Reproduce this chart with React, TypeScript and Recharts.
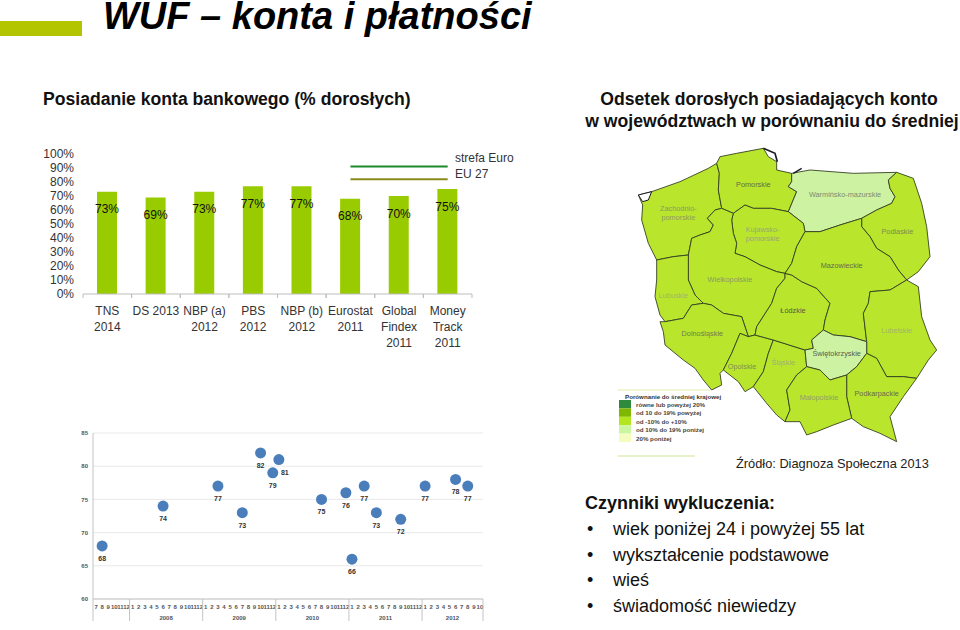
import React from "react";
import {
  ComposedChart,
  LineChart,
  Bar,
  Line,
  XAxis,
  YAxis,
  CartesianGrid,
  LabelList,
  Surface,
  Polygon,
} from "recharts";

const FONT = "'Liberation Sans', Arial, sans-serif";

// ---- Bar chart data ----
const sources = [
  ["TNS", "2014"],
  ["DS 2013"],
  ["NBP (a)", "2012"],
  ["PBS", "2012"],
  ["NBP (b)", "2012"],
  ["Eurostat", "2011"],
  ["Global", "Findex", "2011"],
  ["Money", "Track", "2011"],
];
const accountShare = [73, 69, 73, 77, 77, 68, 70, 75];
const euroArea = [null, null, null, null, null, 91, 91, 91];
const eu27 = [null, null, null, null, null, 82, 82, 82];
const percentTicks = [0, 10, 20, 30, 40, 50, 60, 70, 80, 90, 100];

const barData = sources.map((lines, i) => ({
  key: String(i),
  share: accountShare[i],
  euro: euroArea[i],
  eu: eu27[i],
}));

// ---- Time series data ----
const monthLabels = [
  7, 8, 9, 10, 11, 12,
  1, 2, 3, 4, 5, 6, 7, 8, 9, 10, 11, 12,
  1, 2, 3, 4, 5, 6, 7, 8, 9, 10, 11, 12,
  1, 2, 3, 4, 5, 6, 7, 8, 9, 10, 11, 12,
  1, 2, 3, 4, 5, 6, 7, 8, 9, 10, 11, 12,
  1, 2, 3, 4, 5, 6, 7, 8, 9, 10,
];
const surveyMonths = [1, 11, 20, 24, 27, 29, 30, 37, 41, 42, 44, 46, 50, 54, 59, 61];
const surveyValues = [68, 74, 77, 73, 82, 79, 81, 75, 76, 66, 77, 73, 72, 77, 78, 77];
const rightLabelMonths = [30];
const yearLabelAt: Record<number, string> = { 11: "2008", 23: "2009", 35: "2010", 47: "2011", 58: "2012" };
const yearBoundaries = [0, 6, 18, 30, 42, 54];
const surveyTicks = [60, 65, 70, 75, 80, 85];

const seriesData = monthLabels.map((m, i) => {
  const at = surveyMonths.indexOf(i);
  return { idx: i, value: at >= 0 ? surveyValues[at] : null };
});

// ---- Map ----
type Pt = [number, number];
const MAP_MID = "#b9e62c";
const MAP_LOW = "#cdf3a2";
const voivodeships: { name: string[]; fill: string; lx: number; ly: number; tone: string; outline: Pt[] }[] = [
  { name: ["Zachodnio-", "pomorskie"], fill: MAP_MID, lx: 175, ly: 212, tone: "#8a9a60",
    outline: [[55,165],[95,155],[180,125],[265,85],[290,70],[298,100],[295,150],[305,205],[285,210],[262,235],[280,255],[270,275],[240,285],[215,295],[205,345],[160,350],[110,360],[85,310],[65,240],[68,195]] },
  { name: ["Pomorskie"], fill: MAP_MID, lx: 400, ly: 142, tone: "#666a50",
    outline: [[290,70],[300,50],[350,40],[430,25],[445,50],[470,65],[470,90],[515,100],[515,125],[505,140],[530,155],[505,215],[455,205],[400,205],[375,195],[340,220],[305,205],[295,150],[298,100]] },
  { name: ["Warmińsko-mazurskie"], fill: MAP_LOW, lx: 675, ly: 172, tone: "#7c8c70",
    outline: [[515,100],[570,90],[700,100],[830,97],[805,120],[810,145],[825,170],[815,190],[770,210],[725,235],[660,255],[600,275],[555,275],[550,250],[505,215],[530,155],[505,140],[515,125]] },
  { name: ["Podlaskie"], fill: MAP_MID, lx: 832, ly: 282, tone: "#7a8a50",
    outline: [[830,97],[880,115],[905,190],[920,260],[930,350],[895,395],[860,420],[835,390],[810,350],[770,325],[750,290],[725,260],[725,235],[770,210],[815,190],[825,170],[810,145],[805,120]] },
  { name: ["Kujawsko-", "pomorskie"], fill: MAP_MID, lx: 428, ly: 277, tone: "#98a870",
    outline: [[340,220],[375,195],[400,205],[455,205],[505,215],[550,250],[555,275],[530,320],[515,370],[495,400],[470,395],[420,375],[375,350],[345,340],[350,310],[340,280],[335,240]] },
  { name: ["Wielkopolskie"], fill: MAP_MID, lx: 330, ly: 427, tone: "#8a9a60",
    outline: [[305,205],[340,220],[335,240],[340,280],[350,310],[345,340],[375,350],[420,375],[470,395],[495,400],[495,415],[470,445],[455,490],[410,560],[405,585],[385,590],[365,530],[310,520],[275,495],[250,490],[225,465],[205,420],[205,345],[215,295],[240,285],[270,275],[280,255],[262,235],[285,210]] },
  { name: ["Lubuskie"], fill: MAP_MID, lx: 160, ly: 475, tone: "#a2b270",
    outline: [[205,345],[205,420],[225,465],[250,490],[215,495],[190,535],[135,545],[120,525],[105,470],[110,420],[110,360],[160,350]] },
  { name: ["Dolnośląskie"], fill: MAP_MID, lx: 247, ly: 588, tone: "#6e7a50",
    outline: [[120,545],[135,545],[190,535],[215,495],[250,490],[275,495],[310,520],[365,530],[385,590],[360,580],[335,640],[310,690],[300,700],[305,735],[275,750],[250,720],[225,685],[190,660],[135,615],[130,575]] },
  { name: ["Opolskie"], fill: MAP_MID, lx: 366, ly: 686, tone: "#808c58",
    outline: [[360,580],[385,590],[405,585],[460,600],[445,640],[430,695],[400,740],[375,755],[355,725],[310,690],[335,640]] },
  { name: ["Śląskie"], fill: MAP_MID, lx: 490, ly: 674, tone: "#a0b070",
    outline: [[460,600],[555,630],[560,680],[530,705],[500,750],[510,810],[495,845],[470,825],[440,790],[400,740],[430,695],[445,640]] },
  { name: ["Łódzkie"], fill: MAP_MID, lx: 519, ly: 518, tone: "#555a45",
    outline: [[495,400],[515,405],[545,425],[590,445],[630,490],[615,540],[610,570],[575,600],[580,625],[555,630],[460,600],[405,585],[410,560],[455,490],[470,445],[495,415]] },
  { name: ["Mazowieckie"], fill: MAP_MID, lx: 665, ly: 384, tone: "#666a50",
    outline: [[555,275],[600,275],[660,255],[725,235],[725,260],[750,290],[770,325],[810,350],[835,390],[860,420],[810,450],[750,455],[745,490],[730,520],[740,605],[690,590],[640,585],[610,570],[615,540],[630,490],[590,445],[545,425],[515,405],[495,400],[515,370],[530,320]] },
  { name: ["Lubelskie"], fill: MAP_MID, lx: 830, ly: 580, tone: "#a2b270",
    outline: [[860,420],[895,440],[905,530],[930,600],[950,630],[925,660],[890,715],[850,710],[800,710],[770,655],[740,640],[740,605],[730,520],[745,490],[750,455],[810,450]] },
  { name: ["Świętokrzyskie"], fill: MAP_LOW, lx: 650, ly: 648, tone: "#556050",
    outline: [[610,570],[640,585],[690,590],[740,605],[740,640],[710,680],[680,705],[630,720],[600,690],[560,680],[555,630],[580,625],[575,600]] },
  { name: ["Podkarpackie"], fill: MAP_MID, lx: 770, ly: 768, tone: "#666a50",
    outline: [[740,640],[770,655],[800,710],[850,710],[890,715],[850,770],[810,830],[830,905],[780,880],[730,860],[695,835],[680,770],[680,705],[710,680]] },
  { name: ["Małopolskie"], fill: MAP_MID, lx: 597, ly: 780, tone: "#8e9e68",
    outline: [[560,680],[600,690],[630,720],[680,705],[680,770],[695,835],[640,855],[590,875],[560,885],[540,845],[495,845],[510,810],[500,750],[530,705]] },
];

const legendTitle = "Porównanie do średniej krajowej";
const legendItems = ["równe lub powyżej 20%", "od 10 do 19% powyżej", "od -10% do +10%", "od 10% do 19% poniżej", "20% poniżej"];
const legendColors = ["#2e8b3e", "#7fb800", "#b3e61e", "#ccf5a0", "#f5fcc0"];

const exclusionFactors = ["wiek poniżej 24 i powyżej 55 lat", "wykształcenie podstawowe", "wieś", "świadomość niewiedzy"];

// ---- Custom ticks and labels ----
const SourceTick = (props: any) => {
  const { x, y, payload } = props;
  const lines = sources[Number(payload.value)] || [];
  const half = 24.3;
  return (
    <g>
      <line x1={x - half} x2={x - half} y1={y} y2={y + 4} stroke="#bdbdbd" />
      <line x1={x + half} x2={x + half} y1={y} y2={y + 4} stroke="#bdbdbd" />
      {lines.map((t: string, i: number) => (
        <text key={i} x={x} y={y + 21 + i * 16} textAnchor="middle" fontSize={12} fill="#333" fontFamily={FONT}>
          {t}
        </text>
      ))}
    </g>
  );
};

const MonthTick = (props: any) => {
  const { x, y, payload } = props;
  const i = Number(payload.value);
  const half = 3.05;
  const year = yearLabelAt[i];
  return (
    <g>
      <text x={x} y={y + 10} textAnchor="middle" fontSize={6} fontWeight={700} fill="#555" fontFamily={FONT}>
        {monthLabels[i]}
      </text>
      {yearBoundaries.includes(i) && <line x1={x - half} x2={x - half} y1={y} y2={y + 22} stroke="#c4c4c4" />}
      {i === monthLabels.length - 1 && <line x1={x + half} x2={x + half} y1={y} y2={y + 22} stroke="#c4c4c4" />}
      {year && (
        <text x={x + half} y={y + 21} textAnchor="middle" fontSize={6} fontWeight={700} fill="#555" fontFamily={FONT}>
          {year}
        </text>
      )}
    </g>
  );
};

const PointLabel = (props: any) => {
  const { x, y, value, index } = props;
  if (value == null) return null;
  const right = rightLabelMonths.includes(index);
  return (
    <text x={x + (right ? 6 : 0)} y={y + 15} textAnchor="middle" fontSize={7} fontWeight={700} fill="#333" fontFamily={FONT}>
      {value}
    </text>
  );
};

const PageText = () => (
  <svg width={960} height={630} style={{ position: "absolute", left: 0, top: 0 }}>
    <rect x={0} y={21} width={82} height={15} fill="#b3c400" />
    <text x={103} y={29} fontFamily={FONT} fontSize={38} fontWeight={700} fontStyle="italic" fill="#000">
      WUF – konta i płatności
    </text>
    <text x={43} y={105} fontFamily={FONT} fontSize={17.6} fontWeight={700} fill="#111">
      Posiadanie konta bankowego (% dorosłych)
    </text>
    <text x={769} y={105} textAnchor="middle" fontFamily={FONT} fontSize={17.6} fontWeight={700} fill="#111">
      Odsetek dorosłych posiadających konto
    </text>
    <text x={772} y={127} textAnchor="middle" fontFamily={FONT} fontSize={17.6} fontWeight={700} fill="#111">
      w województwach w porównaniu do średniej
    </text>
    <text x={455} y={162} fontFamily={FONT} fontSize={12} fill="#333">strefa Euro</text>
    <text x={455} y={178} fontFamily={FONT} fontSize={12} fill="#333">EU 27</text>
    <text x={736} y={468} fontFamily={FONT} fontSize={12.8} fill="#222">Źródło: Diagnoza Społeczna 2013</text>
    <text x={585} y={509} fontFamily={FONT} fontSize={18} fontWeight={700} fill="#111">Czynniki wykluczenia:</text>
    {exclusionFactors.map((t, i) => (
      <g key={t}>
        <text x={587} y={535 + i * 25.7} fontFamily={FONT} fontSize={18} fill="#111">•</text>
        <text x={613} y={535 + i * 25.7} fontFamily={FONT} fontSize={18} fill="#111">{t}</text>
      </g>
    ))}
  </svg>
);

const MapPanel = () => (
  <Surface width={320} height={310} viewBox={{ x: 0, y: 0, width: 960, height: 930 }} style={{ position: "absolute", left: 620, top: 140 }}>
    {voivodeships.map((v) => (
      <Polygon
        key={v.name.join("")}
        points={v.outline.map(([x, y]) => ({ x, y }))}
        fill={v.fill}
        stroke="#2f3a20"
        strokeWidth={2.6}
      />
    ))}
    <path d="M430 25 L465 40 L472 65" fill="none" stroke="#1a1a22" strokeWidth={5} />
    <path d="M520 100 L545 85" fill="none" stroke="#1a1a22" strokeWidth={4} />
    <path d="M55 165 L95 155 L85 180 L68 185 Z" fill="#fff" stroke="#1a1a22" strokeWidth={3} />
    {voivodeships.map((v) =>
      v.name.map((line, i) => (
        <text key={line} x={v.lx} y={v.ly + i * 27} textAnchor="middle" fontSize={22} fontFamily={FONT} fill={v.tone}>
          {line}
        </text>
      ))
    )}
  </Surface>
);

const MapLegend = () => (
  <svg width={130} height={90} style={{ position: "absolute", left: 610, top: 380 }}>
    <line x1={8} x2={100} y1={10} y2={10} stroke="#eef6d4" strokeWidth={2} />
    <line x1={8} x2={85} y1={76} y2={76} stroke="#e6f2c8" strokeWidth={2} />
    <text x={15} y={19} fontFamily={FONT} fontSize={6.2} fontWeight={700} fill="#333">{legendTitle}</text>
    {legendItems.map((t, i) => (
      <g key={t}>
        <rect x={9} y={20 + i * 8.4} width={12} height={8.4} fill={legendColors[i]} />
        <text x={26} y={27 + i * 8.4} fontFamily={FONT} fontSize={6.2} fontWeight={700} fill="#444">{t}</text>
      </g>
    ))}
  </svg>
);

export default function App() {
  return (
    <div style={{ position: "absolute", left: 0, top: 0, width: 960, height: 630, overflow: "hidden", background: "#fff" }}>
      <PageText />
      <div style={{ position: "absolute", left: 30, top: 140 }}>
        <ComposedChart width={500} height={230} data={barData} margin={{ top: 14, right: 58, bottom: 0, left: 0 }}>
          <XAxis
            dataKey="key"
            height={76}
            interval={0}
            tickLine={false}
            tickSize={0}
            tickMargin={0}
            stroke="#bdbdbd"
            tick={<SourceTick />}
          />
          <YAxis
            width={53}
            domain={[0, 100]}
            ticks={percentTicks}
            interval={0}
            tickFormatter={(v: number) => `${v}%`}
            axisLine={false}
            tickLine={false}
            tickSize={0}
            tickMargin={9}
            tick={{ fontSize: 12, fill: "#333", fontFamily: FONT }}
          />
          <Bar dataKey="share" fill="#99cc00" barSize={20} isAnimationActive={false}>
            <LabelList
              dataKey="share"
              position="insideTop"
              offset={13}
              formatter={(v: number) => `${v}%`}
              style={{ fontSize: 12, fill: "#111", fontFamily: FONT }}
            />
          </Bar>
          <Line dataKey="euro" stroke="#1c8a2c" strokeWidth={2} dot={false} isAnimationActive={false} />
          <Line dataKey="eu" stroke="#8a8a1e" strokeWidth={2} dot={false} isAnimationActive={false} />
        </ComposedChart>
      </div>
      <div style={{ position: "absolute", left: 70, top: 425 }}>
        <LineChart width={430} height={205} data={seriesData} margin={{ top: 8, right: 17, bottom: 0, left: 0 }}>
          <CartesianGrid vertical={false} stroke="#e9e9e9" />
          <XAxis
            dataKey="idx"
            type="category"
            scale="band"
            height={31}
            interval={0}
            tickLine={false}
            tickSize={0}
            tickMargin={0}
            stroke="#c4c4c4"
            tick={<MonthTick />}
          />
          <YAxis
            width={23}
            domain={[60, 85]}
            ticks={surveyTicks}
            interval={0}
            tickLine={false}
            tickSize={0}
            tickMargin={5}
            stroke="#c4c4c4"
            tick={{ fontSize: 6, fontWeight: 700, fill: "#555", fontFamily: FONT }}
          />
          <Line
            dataKey="value"
            stroke="none"
            dot={{ r: 5.5, fill: "#4a7ebb", stroke: "#4a7ebb", strokeWidth: 0 }}
            activeDot={false}
            label={<PointLabel />}
            isAnimationActive={false}
          />
        </LineChart>
      </div>
      <MapPanel />
      <MapLegend />
    </div>
  );
}
